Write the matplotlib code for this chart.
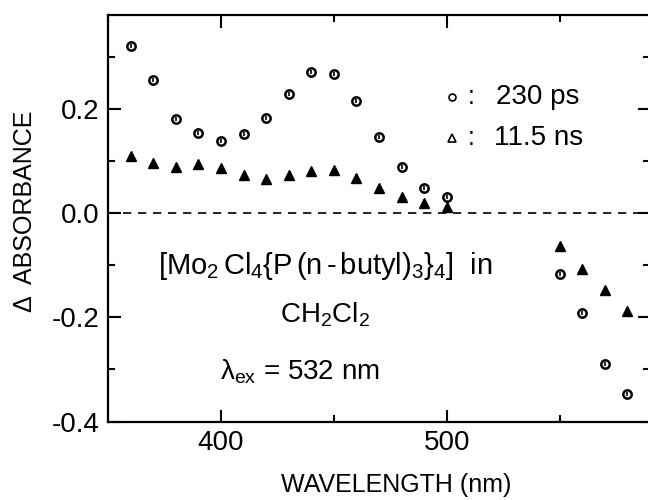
import matplotlib
matplotlib.use("Agg")
import matplotlib.pyplot as plt
from matplotlib.ticker import MultipleLocator, FuncFormatter

FONT = "Liberation Sans"
plt.rcParams["font.family"] = [FONT, "DejaVu Sans"]
plt.rcParams["mathtext.fontset"] = "custom"
plt.rcParams["mathtext.rm"] = FONT
plt.rcParams["mathtext.it"] = FONT
plt.rcParams["mathtext.bf"] = FONT

# data
wl_ps = [360, 370, 380, 390, 400, 410, 420, 430, 440, 450, 460, 470, 480, 490, 500,
         550, 560, 570, 580]
abs_ps = [0.320, 0.255, 0.180, 0.153, 0.139, 0.151, 0.182, 0.228, 0.270, 0.266, 0.215,
          0.146, 0.089, 0.049, 0.031, -0.117, -0.192, -0.290, -0.347]
wl_ns = [360, 370, 380, 390, 400, 410, 420, 430, 440, 450, 460, 470, 480, 490, 500,
         550, 560, 570, 580]
abs_ns = [0.110, 0.096, 0.089, 0.094, 0.086, 0.073, 0.065, 0.073, 0.081, 0.082, 0.068,
          0.048, 0.031, 0.019, 0.011, -0.063, -0.107, -0.148, -0.188]
legend_labels = ["230 ps", "11.5 ns"]

fig = plt.figure(figsize=(6.48, 5.0), dpi=100)
ax = fig.add_axes([0.1667, 0.157, 0.8364, 0.813])

ax.axhline(0, color="black", lw=1.2, ls=(0, (5, 4)), zorder=1)
ax.plot(wl_ps, abs_ps, ls="none", marker="o", ms=6, mfc="white", mec="black", mew=1.8)
ax.plot(wl_ps, abs_ps, ls="none", marker="|", ms=3.5, mec="black", mew=1.2)
ax.plot(wl_ns, abs_ns, ls="none", marker="^", ms=6.5, mfc="black", mec="black")

ax.set_xlim(350, 590)
ax.set_ylim(-0.4, 0.38)
ax.xaxis.set_major_locator(MultipleLocator(100))
ax.xaxis.set_minor_locator(MultipleLocator(50))
ax.yaxis.set_major_locator(MultipleLocator(0.2))
ax.yaxis.set_minor_locator(MultipleLocator(0.1))
ax.tick_params(which="both", direction="in", top=True, right=True, width=1.5,
               labelsize=20, pad=6)
ax.tick_params(which="major", length=9)
ax.tick_params(which="minor", length=5)
ax.yaxis.set_major_formatter(FuncFormatter(lambda v, p: f"{v:.1f}"))
for s in ax.spines.values():
    s.set_linewidth(1.6)

fig.text(396 / 648, 8 / 500, "WAVELENGTH (nm)", fontsize=18, ha="center", va="baseline")
fig.text(25 / 648, 1 - 211 / 500, "Δ  ABSORBANCE", rotation=90, fontsize=18,
         ha="center", va="center")

# legend drawn as markers + text
ax.plot([502.5], [0.223], ls="none", marker="o", ms=5, mfc="white", mec="black", mew=1.2)
ax.plot([502.5], [0.144], ls="none", marker="^", ms=5.5, mfc="white", mec="black", mew=1.2)
ax.text(511, 0.223, ":", fontsize=18, va="center", ha="center")
ax.text(511, 0.144, ":", fontsize=18, va="center", ha="center")
ax.text(522, 0.223, legend_labels[0], fontsize=20, va="center")
ax.text(521, 0.144, legend_labels[1], fontsize=20, va="center")

ax.text(446, -0.102,
        r"$\left[\mathrm{Mo_2\,Cl_4\{P\,(n\,\text{-}\,butyl)_3\}_4}\right]$  in",
        fontsize=21, ha="center", va="center")
ax.text(446, -0.195, r"$\mathrm{CH_2Cl_2}$", fontsize=20, ha="center", va="center")
ax.text(435, -0.305, r"$\mathrm{λ_{ex}}$ = 532 nm", fontsize=20, ha="center", va="center")

fig.savefig("out.png", dpi=100)
